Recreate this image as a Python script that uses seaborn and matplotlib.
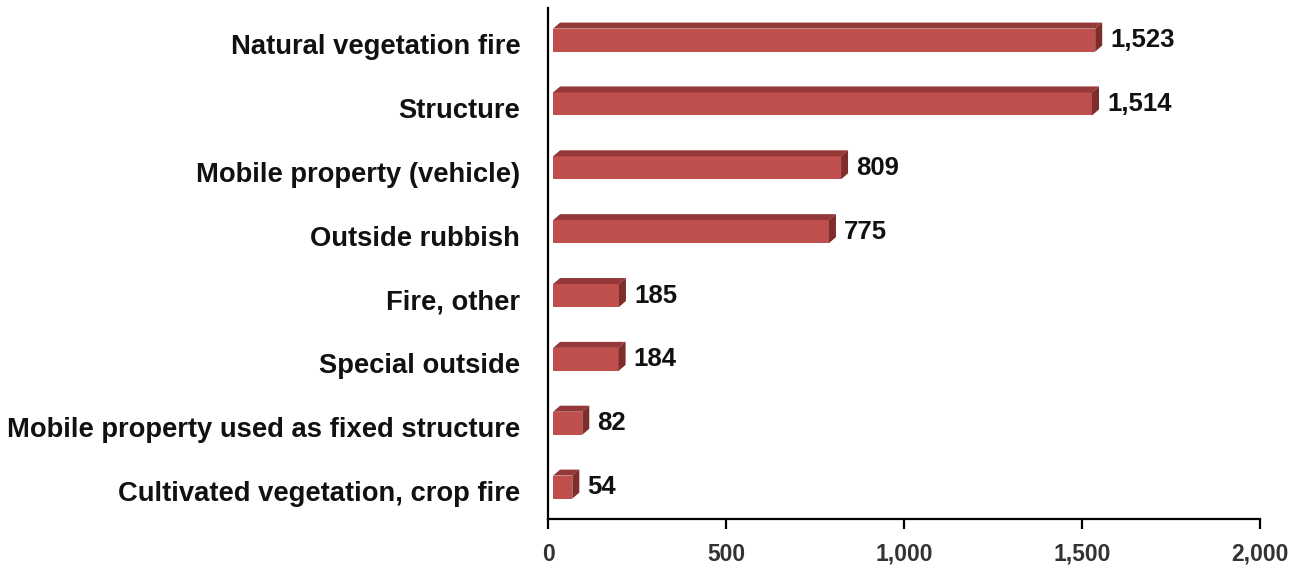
import matplotlib
matplotlib.use("Agg")
import matplotlib.pyplot as plt
import matplotlib.transforms as mtransforms
from matplotlib.patches import Polygon
import seaborn as sns
import pandas as pd

categories = ["Natural vegetation fire", "Structure", "Mobile property (vehicle)",
              "Outside rubbish", "Fire, other", "Special outside",
              "Mobile property used as fixed structure", "Cultivated vegetation, crop fire"]
values = [1523, 1514, 809, 775, 185, 184, 82, 54]
x_ticks = [0, 500, 1000, 1500, 2000]
x_ticklabels = ["0", "500", "1,000", "1,500", "2,000"]

sns.set_theme(style="white")
plt.rcParams['font.family'] = ['Liberation Sans', 'DejaVu Sans']

df = pd.DataFrame({"cat": categories, "val": values})
fig = plt.figure(figsize=(13.05, 5.74), dpi=100)
ax = fig.add_axes([0.42, 0.0958, 0.5455, 0.890])

front = "#C0504D"
top_c = "#943937"
side_c = "#7F2D2B"
sns.barplot(data=df, x="val", y="cat", orient="h", color=front, width=0.36,
            saturation=1, ax=ax, zorder=3)

ax.set_xlim(0, 2000)
ax.set_ylim(7.5, -0.5)
ax.set_xticks(x_ticks)
ax.set_xticklabels(x_ticklabels)
ax.set_xlabel("")
ax.set_ylabel("")

shift = mtransforms.ScaledTranslation(5 / 100, 0, fig.dpi_scale_trans)
tr = ax.transData + shift
dx, dy = 7, 6  # pixels
bars = list(ax.patches)
for p in bars:
    p.set_transform(tr)
    p.set_edgecolor("none")
    x0, y0 = p.get_x(), p.get_y()
    w, h = p.get_width(), p.get_height()

    def pt(x, y, ox=0, oy=0):
        d = tr.transform((x, y))
        return (d[0] + ox, d[1] + oy)
    pts_top = [pt(x0, y0), pt(x0, y0, dx, dy), pt(x0 + w, y0, dx, dy), pt(x0 + w, y0)]
    pts_side = [pt(x0 + w, y0), pt(x0 + w, y0, dx, dy), pt(x0 + w, y0 + h, dx, dy), pt(x0 + w, y0 + h)]
    ax.add_patch(Polygon(pts_top, closed=True, transform=mtransforms.IdentityTransform(),
                         facecolor=top_c, edgecolor="none", zorder=3))
    ax.add_patch(Polygon(pts_side, closed=True, transform=mtransforms.IdentityTransform(),
                         facecolor=side_c, edgecolor="none", zorder=3))

for i, v in enumerate(values):
    ax.annotate(f"{v:,}", xy=(v, i), xytext=(14.5, 0), textcoords="offset points",
                ha="left", va="center", fontsize=18.5, fontweight="bold", color="#111111")

for s in ["top", "right"]:
    ax.spines[s].set_visible(False)
for s in ["left", "bottom"]:
    ax.spines[s].set_color("black")
    ax.spines[s].set_linewidth(1.6)

ax.tick_params(axis="x", bottom=True, direction="out", length=7, width=1.6, color="black",
               pad=10, labelsize=16.5, labelcolor="#333333")
ax.tick_params(axis="y", left=False, pad=14, labelsize=19.7, labelcolor="#111111")
down = mtransforms.ScaledTranslation(0, -4 / 100, fig.dpi_scale_trans)
for lab in ax.get_yticklabels():
    lab.set_transform(lab.get_transform() + down)
for lab in ax.get_xticklabels() + ax.get_yticklabels():
    lab.set_fontweight("bold")

fig.savefig("out.png", dpi=100)
